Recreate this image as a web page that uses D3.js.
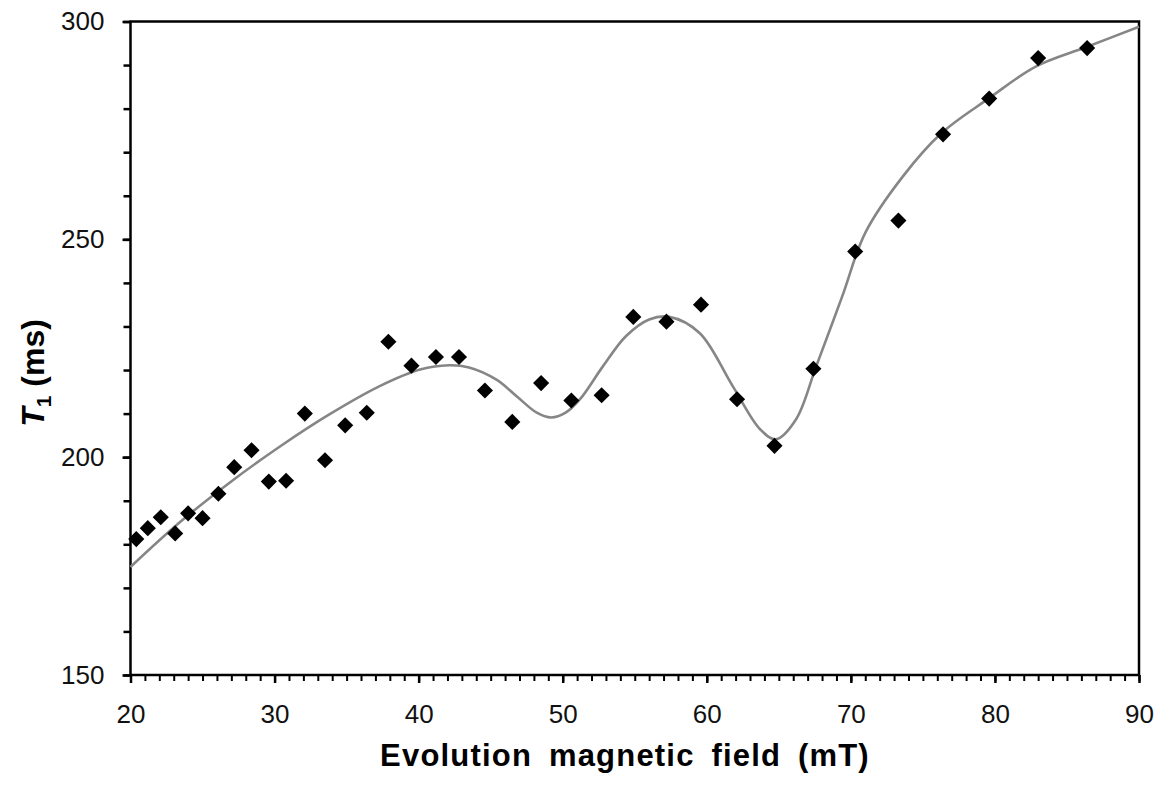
<!DOCTYPE html>
<html>
<head>
<meta charset="utf-8">
<script src="https://cdn.jsdelivr.net/npm/d3@7"></script>
<style>
  body { margin: 0; background: #fff; }
  text { font-family: "Liberation Sans", Arial, sans-serif; }
</style>
</head>
<body>
<div id="graph"></div>
<script>
const width = 1161;
const height = 793;

// measured points
const fieldMT = [20.4, 21.2, 22.1, 23.1, 24.0, 25.0, 26.1, 27.2, 28.4, 29.6, 30.8, 32.1, 33.5, 34.9, 36.4, 37.9,
  39.5, 41.2, 42.8, 44.6, 46.5, 48.5, 50.6, 52.7, 54.9, 57.2, 59.6, 62.1, 64.7, 67.4, 70.3, 73.3, 76.4, 79.6, 83.0, 86.4];
const t1ms = [181.2, 183.7, 186.2, 182.5, 187.1, 186.0, 191.6, 197.7, 201.6, 194.4, 194.6, 210.0, 199.3, 207.3, 210.2, 226.5,
  221.0, 223.0, 223.0, 215.3, 208.1, 217.0, 213.0, 214.2, 232.2, 231.1, 235.0, 213.3, 202.6, 220.3, 247.2, 254.3, 274.1, 282.3, 291.6, 293.9];

// fitted curve
const fitField = [20.0, 23.4, 26.9, 30.4, 33.8, 37.3, 40.1, 42.1, 43.5, 45.4, 46.8, 48.2, 49.2, 50.2, 51.2, 52.8, 54.4,
  56.0, 57.4, 59.5, 61.8, 63.7, 64.8, 66.2, 67.6, 69.4, 71.0, 73.6, 76.3, 79.6, 82.8, 86.4, 90.0];
const fitT1 = [174.8, 185.0, 194.2, 202.5, 209.8, 216.3, 220.1, 221.1, 220.6, 217.8, 214.0, 210.2, 209.1, 210.2, 213.3, 220.9, 227.8,
  231.6, 232.2, 228.5, 216.3, 206.4, 204.1, 208.7, 220.9, 236.9, 251.5, 264.4, 274.4, 282.4, 289.6, 294.2, 298.8];

const xTicks = [20, 30, 40, 50, 60, 70, 80, 90];
const yTicks = [150, 200, 250, 300];

const margin = { top: 21.5, right: 21.5, bottom: 117.5, left: 130.5 };

const svg = d3.select("#graph")
  .append("svg")
  .attr("width", width)
  .attr("height", height)
  .style("background", "#fff");

const x = d3.scaleLinear().domain([20, 90]).range([margin.left, width - margin.right - 0.5]);
const y = d3.scaleLinear().domain([150, 300]).range([675, margin.top]);

// minor ticks first, then major ones on top
svg.append("g")
  .attr("transform", `translate(0, ${y(150)})`)
  .call(d3.axisBottom(x).tickValues(d3.range(20, 91, 1)).tickSize(6).tickFormat(""))
  .call(g => g.select(".domain").remove())
  .call(g => g.selectAll("line").attr("stroke", "#000").attr("stroke-width", 2));

svg.append("g")
  .attr("transform", `translate(0, ${y(150)})`)
  .call(d3.axisBottom(x).tickValues(xTicks).tickSize(8).tickPadding(22))
  .call(g => g.select(".domain").remove())
  .call(g => g.selectAll("line").attr("stroke", "#000").attr("stroke-width", 2.5))
  .call(g => g.selectAll("text").attr("font-size", 26).attr("fill", "#111"));

svg.append("g")
  .attr("transform", `translate(${x(20)}, 0)`)
  .call(d3.axisLeft(y).tickValues(d3.range(150, 301, 10)).tickSize(7).tickFormat(""))
  .call(g => g.select(".domain").remove())
  .call(g => g.selectAll("line").attr("stroke", "#000").attr("stroke-width", 2.5));

svg.append("g")
  .attr("transform", `translate(${x(20)}, 0)`)
  .call(d3.axisLeft(y).tickValues(yTicks).tickSize(8).tickPadding(18))
  .call(g => g.select(".domain").remove())
  .call(g => g.selectAll("line").attr("stroke", "#000").attr("stroke-width", 2.5))
  .call(g => g.selectAll("text").attr("font-size", 26).attr("fill", "#111"));

// frame around the plot
svg.append("rect")
  .attr("x", x(20))
  .attr("y", y(300))
  .attr("width", x(90) - x(20))
  .attr("height", y(150) - y(300))
  .attr("fill", "none")
  .attr("stroke", "#000")
  .attr("stroke-width", 2.5);

const fitData = fitField.map((f, i) => ({ f: f, t: fitT1[i] }));
svg.append("path")
  .datum(fitData)
  .attr("fill", "none")
  .attr("stroke", "#868686")
  .attr("stroke-width", 2.6)
  .attr("d", d3.line().x(d => x(d.f)).y(d => y(d.t)).curve(d3.curveCatmullRom.alpha(0.5)));

const points = fieldMT.map((f, i) => ({ f: f, t: t1ms[i] }));
svg.append("g")
  .selectAll("path")
  .data(points)
  .join("path")
  .attr("d", d3.symbol().type(d3.symbolSquare).size(130))
  .attr("transform", d => `translate(${x(d.f)}, ${y(d.t)}) rotate(45)`)
  .attr("fill", "#000");

// axis titles
svg.append("text")
  .attr("x", 625)
  .attr("y", 766)
  .attr("text-anchor", "middle")
  .attr("font-size", 31)
  .attr("font-weight", "bold")
  .attr("letter-spacing", 1.2)
  .attr("word-spacing", 7)
  .text("Evolution magnetic field (mT)");

const yTitle = svg.append("text")
  .attr("transform", "translate(44, 373) rotate(-90)")
  .attr("text-anchor", "middle")
  .attr("font-size", 32)
  .attr("font-weight", "bold");
yTitle.append("tspan").attr("font-style", "italic").text("T");
yTitle.append("tspan").attr("font-size", 21).attr("dy", 7).text("1");
yTitle.append("tspan").attr("dy", -7).text(" (ms)");
</script>
</body>
</html>
